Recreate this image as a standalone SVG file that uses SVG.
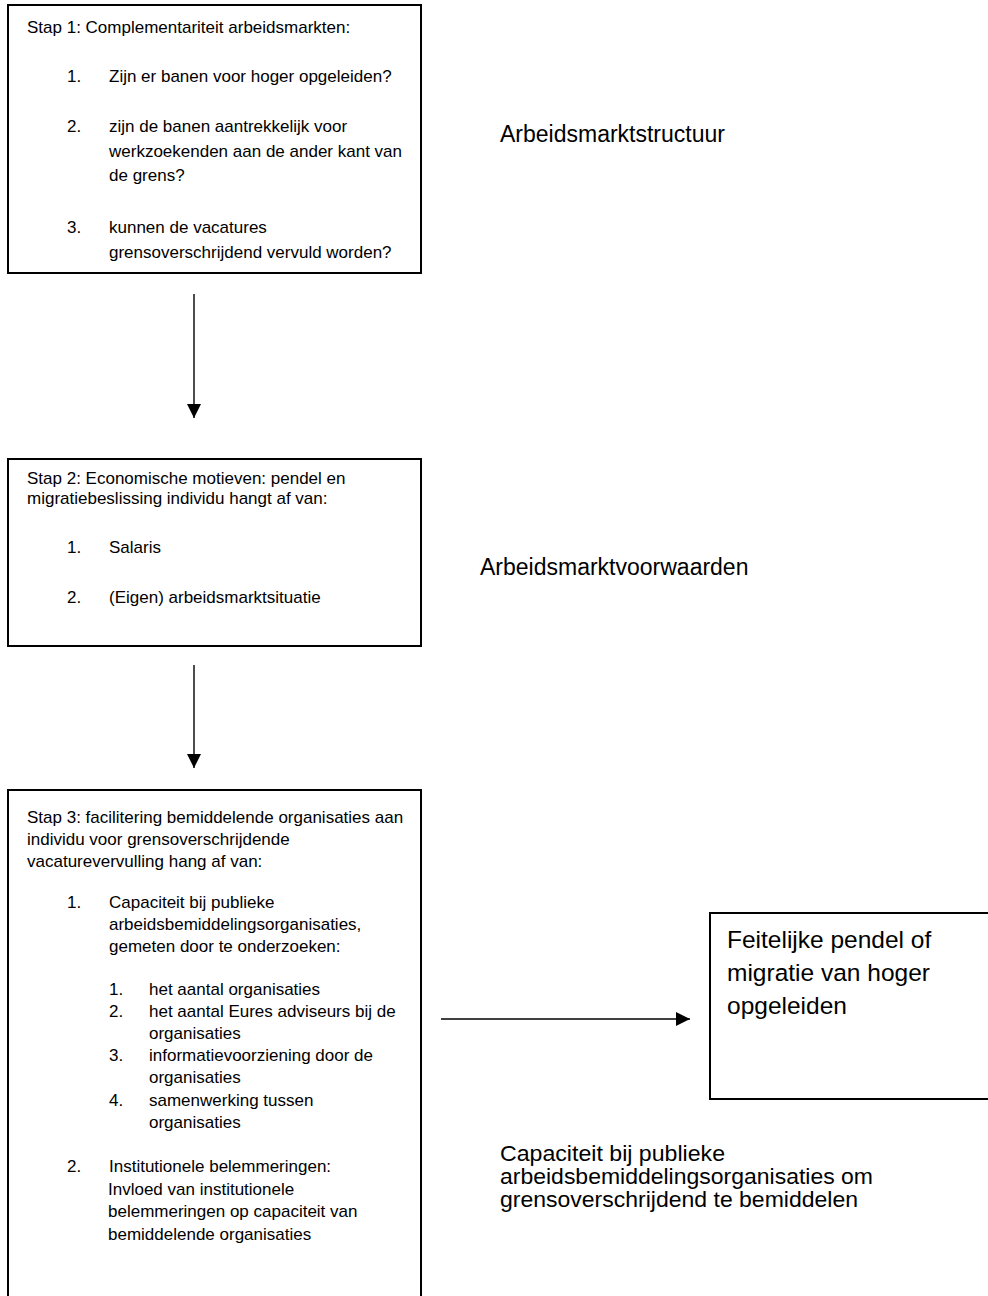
<svg xmlns="http://www.w3.org/2000/svg" width="988" height="1296" viewBox="0 0 988 1296">
<style>
.box{fill:#fff;stroke:#000;stroke-width:2}
.t{font-family:"Liberation Sans",Arial,sans-serif;font-size:17px;fill:#000}
.lbl{font-family:"Liberation Sans",Arial,sans-serif;font-size:23px;fill:#000}
.lbl2{font-family:"Liberation Sans",Arial,sans-serif;font-size:21.5px;fill:#000}
.big{font-family:"Liberation Sans",Arial,sans-serif;font-size:24.5px;fill:#000}
.conn{stroke:#000;stroke-width:1.4;fill:none}
</style>
<defs>
<marker id="ah" markerUnits="userSpaceOnUse" markerWidth="14" markerHeight="14" refX="14" refY="7" orient="auto">
<path d="M0,0 L14,7 L0,14 Z" fill="#000"/>
</marker>
</defs>
<rect width="988" height="1296" fill="#fff"/>
<g id="stap1">
<rect class="box" x="8" y="5" width="413" height="268"/>
<text class="t" x="27" y="33">Stap 1: Complementariteit arbeidsmarkten:</text>
<text class="t" x="67" y="82">1.</text>
<text class="t" x="109" y="82">Zijn er banen voor hoger opgeleiden?</text>
<text class="t" x="67" y="132">2.</text>
<text class="t" x="109" y="132">zijn de banen aantrekkelijk voor</text>
<text class="t" x="109" y="157">werkzoekenden aan de ander kant van</text>
<text class="t" x="109" y="181">de grens?</text>
<text class="t" x="67" y="233">3.</text>
<text class="t" x="109" y="233">kunnen de vacatures</text>
<text class="t" x="109" y="258">grensoverschrijdend vervuld worden?</text>
</g>
<g id="stap2">
<rect class="box" x="8" y="459" width="413" height="187"/>
<text class="t" x="27" y="484">Stap 2: Economische motieven: pendel en</text>
<text class="t" x="27" y="504">migratiebeslissing individu hangt af van:</text>
<text class="t" x="67" y="553">1.</text>
<text class="t" x="109" y="553">Salaris</text>
<text class="t" x="67" y="603">2.</text>
<text class="t" x="109" y="603">(Eigen) arbeidsmarktsituatie</text>
</g>
<g id="stap3">
<rect class="box" x="8" y="790" width="413" height="530"/>
<text class="t" x="27" y="823">Stap 3: facilitering bemiddelende organisaties aan</text>
<text class="t" x="27" y="845">individu voor grensoverschrijdende</text>
<text class="t" x="27" y="867">vacaturevervulling hang af van:</text>
<text class="t" x="67" y="908">1.</text>
<text class="t" x="109" y="908">Capaciteit bij publieke</text>
<text class="t" x="109" y="930">arbeidsbemiddelingsorganisaties,</text>
<text class="t" x="109" y="952">gemeten door te onderzoeken:</text>
<text class="t" x="109" y="995">1.</text>
<text class="t" x="149" y="995">het aantal organisaties</text>
<text class="t" x="109" y="1017">2.</text>
<text class="t" x="149" y="1017">het aantal Eures adviseurs bij de</text>
<text class="t" x="149" y="1039">organisaties</text>
<text class="t" x="109" y="1061">3.</text>
<text class="t" x="149" y="1061"> informatievoorziening door de</text>
<text class="t" x="149" y="1083">organisaties</text>
<text class="t" x="109" y="1106">4.</text>
<text class="t" x="149" y="1106">samenwerking tussen</text>
<text class="t" x="149" y="1128">organisaties</text>
<text class="t" x="67" y="1172">2.</text>
<text class="t" x="109" y="1172">Institutionele belemmeringen:</text>
<text class="t" x="108" y="1195">Invloed van institutionele</text>
<text class="t" x="108" y="1217">belemmeringen op capaciteit van</text>
<text class="t" x="108" y="1240">bemiddelende organisaties</text>
</g>
<g id="resultaat">
<rect class="box" x="710" y="913" width="300" height="186"/>
<text class="big" x="727" y="948">Feitelijke pendel of</text>
<text class="big" x="727" y="981">migratie van hoger</text>
<text class="big" x="727" y="1014">opgeleiden</text>
</g>
<g id="label-structuur">
<text class="lbl" x="500" y="142">Arbeidsmarktstructuur</text>
</g>
<g id="label-voorwaarden">
<text class="lbl" x="480" y="575">Arbeidsmarktvoorwaarden</text>
</g>
<g id="label-capaciteit">
<text class="lbl2" x="500" y="1161" textLength="225" lengthAdjust="spacingAndGlyphs">Capaciteit bij publieke</text>
<text class="lbl2" x="500" y="1184" textLength="373" lengthAdjust="spacingAndGlyphs">arbeidsbemiddelingsorganisaties om</text>
<text class="lbl2" x="500" y="1207" textLength="358" lengthAdjust="spacingAndGlyphs">grensoverschrijdend te bemiddelen</text>
</g>
<g id="connectors">
<line class="conn" x1="194" y1="294" x2="194" y2="418" marker-end="url(#ah)"/>
<line class="conn" x1="194" y1="665" x2="194" y2="768" marker-end="url(#ah)"/>
<line class="conn" x1="441" y1="1019" x2="690" y2="1019" marker-end="url(#ah)"/>
</g>
</svg>
